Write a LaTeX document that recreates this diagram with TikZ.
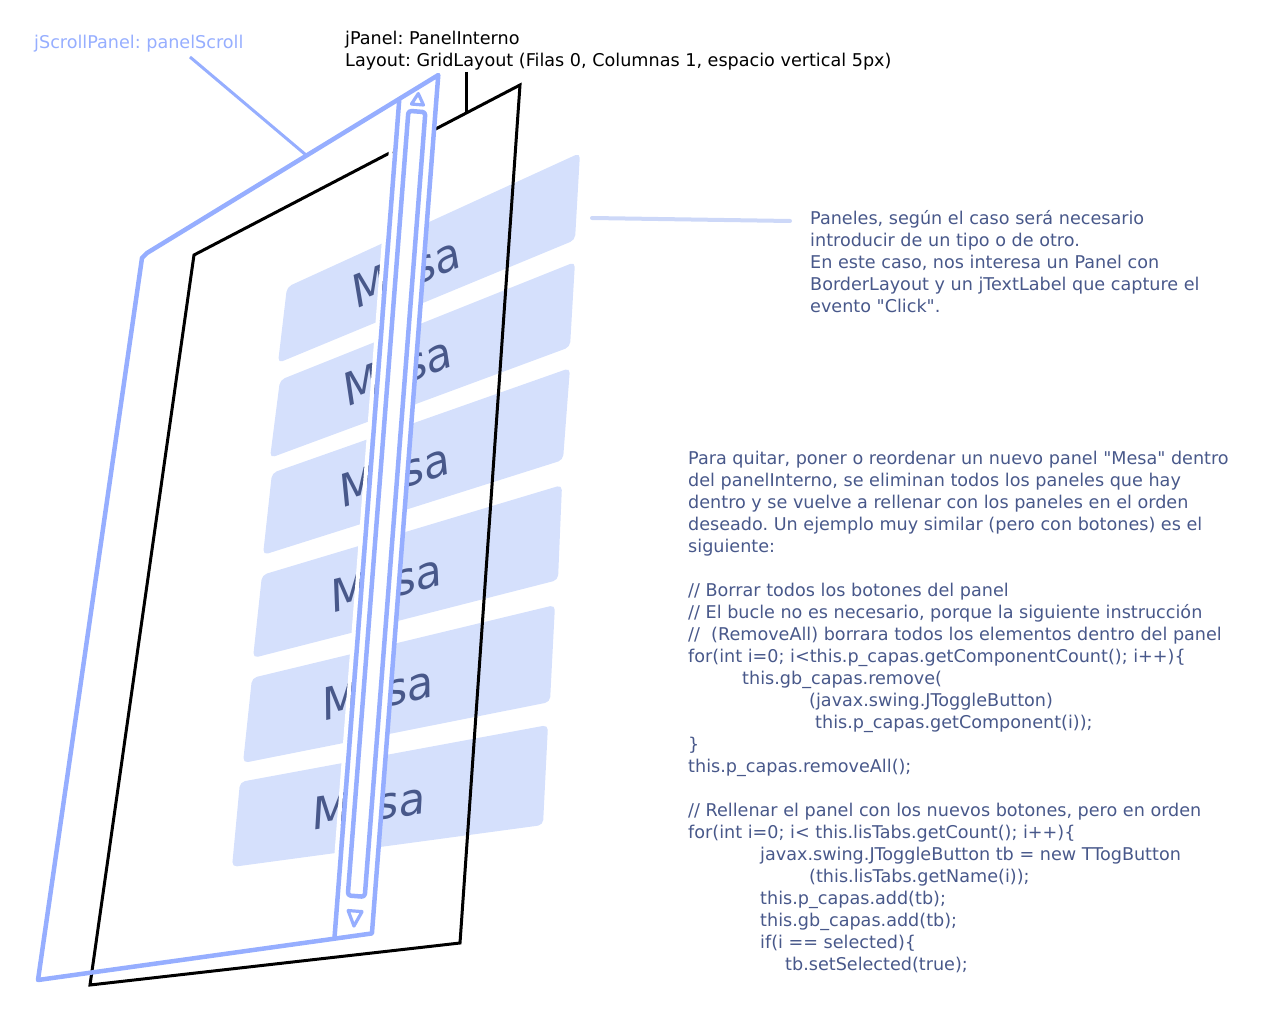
\documentclass[tikz,border=0pt]{standalone}
\usepackage{fontspec}
\setmainfont{DejaVu Sans}
\newfontfamily\dv{DejaVu Sans}
\newfontfamily\mesafont{DejaVu Sans}[FakeSlant=0.22]
\definecolor{sbblue}{RGB}{150,174,255}
\definecolor{mesafill}{RGB}{213,224,252}
\definecolor{txtc}{RGB}{72,88,138}
\definecolor{paleline}{RGB}{205,216,248}
\begin{document}
\frenchspacing
\begin{tikzpicture}[x=1pt,y=-1pt,
  txt/.style={anchor=base west,inner sep=0,text=txtc,font=\dv\fontsize{17.6}{22}\selectfont},
  lbl/.style={anchor=base west,inner sep=0,font=\dv\fontsize{17.6}{22}\selectfont},
  mesapanel/.style={fill=mesafill,rounded corners=5},
  mesatext/.style={anchor=base,inner sep=0,text=txtc,font=\mesafont\fontsize{44}{44}\selectfont},
  blueline/.style={draw=sbblue,line width=4.5,line join=round},
  arrowtri/.style={draw=sbblue,line width=3.2,line join=round},
  blackline/.style={draw=black,line width=3,line join=miter}
]
\useasboundingbox (0,0) rectangle (1280,1024);

% Mesa panels
\fill[mesapanel] (287,287) -- (580,153) -- (575,240) -- (278,363) -- cycle;
\fill[mesapanel] (280,380) -- (575,262) -- (570,347) -- (270,458) -- cycle;
\fill[mesapanel] (272,473) -- (570,368) -- (563,460) -- (263,555) -- cycle;
\fill[mesapanel] (262,575) -- (562,485) -- (558,580) -- (253,658) -- cycle;
\fill[mesapanel] (252,678) -- (555,605) -- (550,702) -- (243,763) -- cycle;
\fill[mesapanel] (240,782) -- (548,725) -- (543,825) -- (232,867) -- cycle;

\node[mesatext,rotate=22] (m1) at (409,288) {Mesa};
\node[mesatext,rotate=21] (m2) at (400.5,386.5) {Mesa};
\node[mesatext,rotate=18] (m3) at (396,490.5) {Mesa};
\node[mesatext,rotate=14.5] (m4) at (387,599) {Mesa};
\node[mesatext,rotate=13] (m5) at (378,709) {Mesa};
\node[mesatext,rotate=9] (m6) at (368,822) {Mesa};

% jPanel (black)
\draw[blackline] (90,985) -- (194,255) -- (520,85) -- (460,943) -- cycle;

% scrollbar geometry
\begin{scope}[shift={(353.1,937)},rotate=-4.42]
  \coordinate (sbTL) at (-18.5,-839.5);
  \coordinate (sbTR) at (18.5,-866);
  \coordinate (sbBR) at (18.5,-5);
  \coordinate (sbBL) at (-18.5,3);
  \fill[white] (sbTL) -- (sbTR) -- (sbBR) -- (sbBL) -- cycle;
  \draw[white,line width=4] (-23,-826) -- (-23,-8);
\end{scope}

% jScrollPanel outline
\draw[blueline] (38,980) -- (142,258) -- (147,253) -- (sbTR) -- (sbBR) -- cycle;
\draw[blueline] (sbTL) -- (sbBL);

\begin{scope}[shift={(353.1,937)},rotate=-4.42]
  \draw[blueline,rounded corners=3] (-8.5,-828) rectangle (8.5,-41);
  \draw[arrowtri] (0,-846) -- (-6,-835) -- (6,-835) -- cycle;
  \draw[arrowtri] (-7,-26) -- (7,-26) -- (0,-11) -- cycle;
\end{scope}

% labels and connectors
\node[lbl,text=sbblue] (jsLabel) at (34,48.5) {jScrollPanel: panelScroll};
\coordinate (jsStart) at (190,57);
\coordinate (jsEnd) at (306,155);
\draw[draw=sbblue,line width=3] (jsStart) -- (jsEnd);

\node[lbl] (jpLabel) at (345,44.5) {jPanel: PanelInterno};
\node[lbl] (layLabel) at (345,66.5) {Layout: GridLayout (Filas 0, Columnas 1, espacio vertical 5px)};
\coordinate (jpStart) at (466,72);
\coordinate (jpEnd) at (466,113);
\draw[line width=3] (jpStart) -- (jpEnd);

\coordinate (pStart) at (592,218);
\coordinate (pEnd) at (790,221);
\draw[paleline,line width=4,line cap=round] (pStart) -- (pEnd);

\node[txt] (p1) at (810,224.5) {Paneles, según el caso será necesario};
\node[txt] (p2) at (810,246.5) {introducir de un tipo o de otro.};
\node[txt] (p3) at (810,268.5) {En este caso, nos interesa un Panel con};
\node[txt] (p4) at (810,290.5) {BorderLayout y un jTextLabel que capture el};
\node[txt] (p5) at (810,312.5) {evento "Click".};

\node[txt] (c0) at (688,464.5) {Para quitar, poner o reordenar un nuevo panel "Mesa" dentro};
\node[txt] (c1) at (688,486.5) {del panelInterno, se eliminan todos los paneles que hay};
\node[txt] (c2) at (688,508.5) {dentro y se vuelve a rellenar con los paneles en el orden};
\node[txt] (c3) at (688,530.5) {deseado. Un ejemplo muy similar (pero con botones) es el};
\node[txt] (c4) at (688,552.5) {siguiente:};
\node[txt] (c6) at (688,596.5) {// Borrar todos los botones del panel};
\node[txt] (c7) at (688,618.5) {// El bucle no es necesario, porque la siguiente instrucción};
\node[txt] (c8) at (688,640.5) {//\ \ (RemoveAll) borrara todos los elementos dentro del panel};
\node[txt] (c9) at (688,662.5) {for(int i=0; i<this.p\_capas.getComponentCount(); i++)\{};
\node[txt] (c10) at (742,684.5) {this.gb\_capas.remove(};
\node[txt] (c11) at (809,706.5) {(javax.swing.JToggleButton)};
\node[txt] (c12) at (815,728.5) {this.p\_capas.getComponent(i));};
\node[txt] (c13) at (688,750.5) {\}};
\node[txt] (c14) at (688,772.5) {this.p\_capas.removeAll();};
\node[txt] (c16) at (688,816.5) {// Rellenar el panel con los nuevos botones, pero en orden};
\node[txt] (c17) at (688,838.5) {for(int i=0; i< this.lisTabs.getCount(); i++)\{};
\node[txt] (c18) at (760,860.5) {javax.swing.JToggleButton tb = new TTogButton};
\node[txt] (c19) at (809,882.5) {(this.lisTabs.getName(i));};
\node[txt] (c20) at (760,904.5) {this.p\_capas.add(tb);};
\node[txt] (c21) at (760,926.5) {this.gb\_capas.add(tb);};
\node[txt] (c22) at (760,948.5) {if(i == selected)\{};
\node[txt] (c23) at (785,970.5) {tb.setSelected(true);};
\end{tikzpicture}
\end{document}
